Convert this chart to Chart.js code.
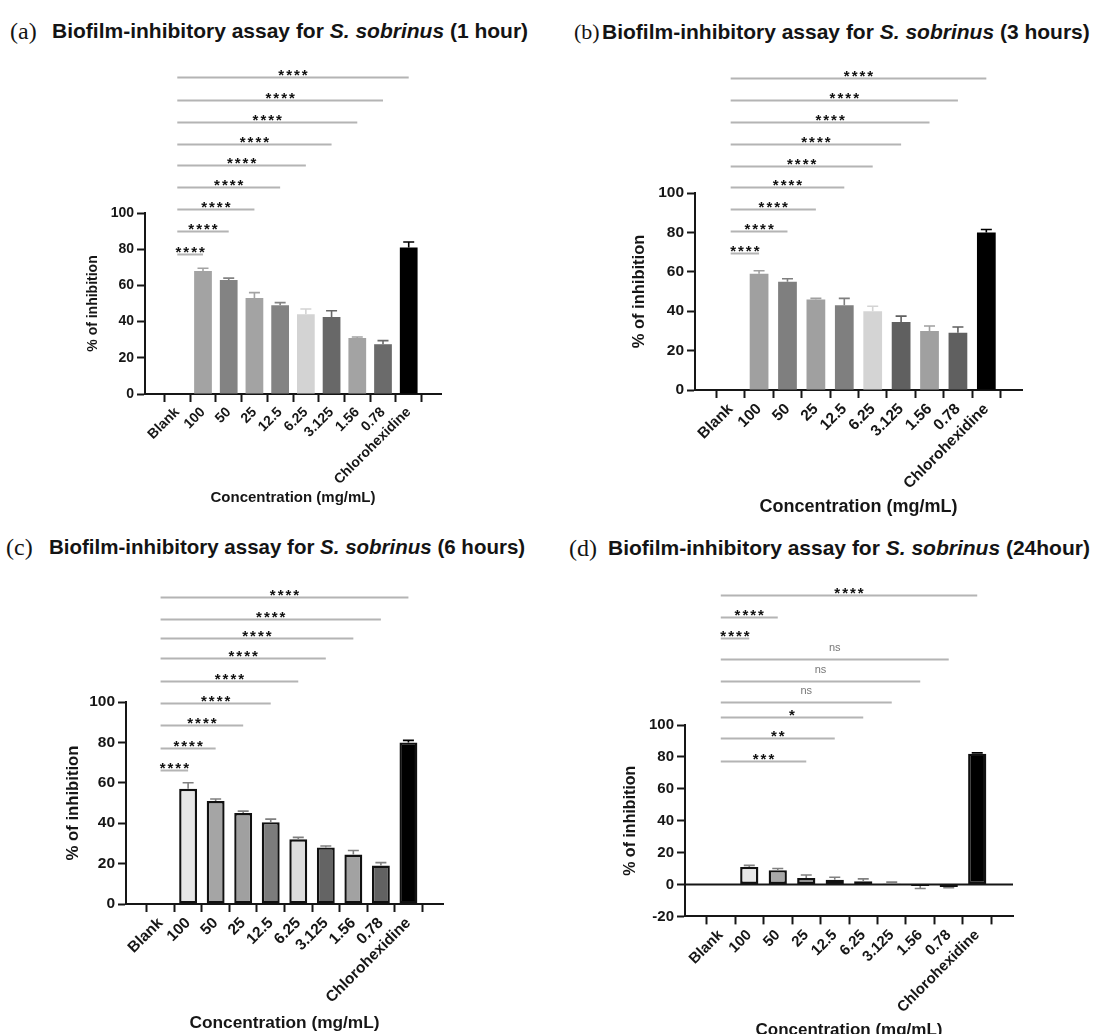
<!DOCTYPE html>
<html>
<head>
<meta charset="utf-8">
<title>Biofilm-inhibitory assay for S. sobrinus</title>
<script src="https://cdn.jsdelivr.net/npm/chart.js@4.4.1/dist/chart.umd.min.js"></script>
<style>
  html, body { margin: 0; padding: 0; background: #fff; }
  body { width: 1099px; height: 1034px; position: relative; overflow: hidden;
         font-family: "Liberation Sans", Arial, sans-serif; color: #141414; }
  canvas { position: absolute; }
  .ttl { position: absolute; white-space: nowrap; font-weight: bold; font-size: 21px; line-height: 24px; }
  .tag { position: absolute; white-space: nowrap; font-family: "Liberation Serif", "Times New Roman", serif;
         font-size: 24px; line-height: 24px; }
</style>
</head>
<body>
<div class="tag" style="left:10px;top:19px">(a)</div>
<div class="ttl" style="left:52px;top:19px">Biofilm-inhibitory assay for <i>S. sobrinus</i> (1 hour)</div>
<div class="tag" style="left:574px;top:20px;font-size:22px">(b)</div>
<div class="ttl" style="left:602px;top:20px">Biofilm-inhibitory assay for <i>S. sobrinus</i> (3 hours)</div>
<div class="tag" style="left:6px;top:535px">(c)</div>
<div class="ttl" style="left:49px;top:535px;font-size:20.5px">Biofilm-inhibitory assay for <i>S. sobrinus</i> (6 hours)</div>
<div class="tag" style="left:569px;top:536px">(d)</div>
<div class="ttl" style="left:608px;top:536px">Biofilm-inhibitory assay for <i>S. sobrinus</i> (24hour)</div>

<canvas id="chartA"></canvas>
<canvas id="chartB"></canvas>
<canvas id="chartC"></canvas>
<canvas id="chartD"></canvas>

<script>
// Categories (concentration, mg/mL)
const categories = ["Blank", "100", "50", "25", "12.5", "6.25", "3.125", "1.56", "0.78", "Chlorohexidine"];

// % of inhibition, mean and upper error, per time point
const values1h  = [0, 68, 63, 53, 49, 44, 42.5, 31, 27.5, 81];
const errors1h  = [0, 1.5, 1, 3, 1.5, 3, 3.5, 0.5, 2, 3];
const values3h  = [0, 59, 55, 46, 43, 40, 34.5, 30, 29, 80];
const errors3h  = [0, 1.5, 1.5, 0.5, 3.5, 2.5, 3, 2.5, 3, 1.5];
const values6h  = [0, 57, 51, 45, 40.5, 32, 28, 24.5, 19, 80];
const errors6h  = [0, 3, 1, 1, 1.5, 1, 0.7, 2, 1.5, 1];
const values24h = [0, 11, 9, 4, 3, 2, 0.5, -1, -1.5, 82];
const errors24h = [0, 1, 1, 2, 1.5, 1.5, 1, 1.5, 0.5, 0.5];

// Comparisons against Blank: [category index, label], listed bottom to top
const compareAll = [[1, "****"], [2, "****"], [3, "****"], [4, "****"], [5, "****"],
                    [6, "****"], [7, "****"], [8, "****"], [9, "****"]];
const compare24h = [[3, "***"], [4, "**"], [5, "*"], [6, "ns"], [7, "ns"], [8, "ns"],
                    [1, "****"], [2, "****"], [9, "****"]];

const yTicks = [-20, 0, 20, 40, 60, 80, 100];

const ink = "#161616";
Chart.defaults.font.family = "'Liberation Sans', Arial, sans-serif";

// Panel layout and styling
const panels = [
  {
    id: "chartA", values: values1h, errors: errors1h, compare: compareAll,
    colors: ["#a3a3a3", "#a3a3a3", "#838383", "#a3a3a3", "#838383", "#d3d3d3", "#686868", "#a3a3a3", "#6b6b6b", "#000000"],
    box: { left: 0, top: 50, width: 550, height: 470 },
    area: { left: 145, right: 441, top: 213, bottom: 394 },
    yMin: 0, tickSize: 14, yTitleSize: 14, xTitleSize: 15, yTitleX: 93.5, xTitleY: 498,
    barPct: 0.69, outlined: false,
    levels: [77.3, 90, 102, 114.4, 126.5, 138, 150.3, 162.4, 175]
  },
  {
    id: "chartB", values: values3h, errors: errors3h, compare: compareAll,
    colors: ["#a0a0a0", "#a0a0a0", "#7f7f7f", "#a0a0a0", "#7f7f7f", "#d4d4d4", "#606060", "#a0a0a0", "#606060", "#000000"],
    box: { left: 550, top: 50, width: 549, height: 470 },
    area: { left: 695, right: 1022, top: 193, bottom: 390 },
    yMin: 0, tickSize: 15.5, yTitleSize: 16.5, xTitleSize: 18, yTitleX: 639.6, xTitleY: 506.7,
    barPct: 0.66, outlined: false,
    levels: [69.5, 80.6, 91.7, 102.8, 113.9, 125, 136.1, 147.2, 158.3]
  },
  {
    id: "chartC", values: values6h, errors: errors6h, compare: compareAll,
    colors: ["#e6e6e6", "#e6e6e6", "#a5a5a5", "#a0a0a0", "#7c7c7c", "#dedede", "#646464", "#a2a2a2", "#626262", "#000000"],
    box: { left: 0, top: 570, width: 550, height: 464 },
    area: { left: 126, right: 443, top: 702, bottom: 904 },
    yMin: 0, tickSize: 15.5, yTitleSize: 16.7, xTitleSize: 17.3, yTitleX: 73, xTitleY: 1023,
    barPct: 0.65, outlined: true,
    levels: [66.3, 77.4, 88.6, 99.6, 110.5, 121.8, 131.7, 141, 152]
  },
  {
    id: "chartD", values: values24h, errors: errors24h, compare: compare24h,
    colors: ["#e8e8e8", "#e8e8e8", "#a8a8a8", "#a0a0a0", "#7c7c7c", "#cfcfcf", "#646464", "#c8c8c8", "#555555", "#000000"],
    box: { left: 550, top: 570, width: 549, height: 480 },
    area: { left: 685, right: 1013, top: 725, bottom: 916.4 },
    yMin: -20, tickSize: 15, yTitleSize: 16, xTitleSize: 17, yTitleX: 630.5, xTitleY: 1030,
    barPct: 0.64, outlined: true,
    levels: [77.7, 91.7, 105.2, 114.6, 127.7, 141.1, 154.6, 167.7, 181.2]
  }
];

// Error bars, zero line and significance brackets
function overlay(p) {
  return {
    id: "overlay-" + p.id,
    afterDatasetsDraw(chart) {
      const { ctx, chartArea, scales: { x, y } } = chart;
      ctx.save();

      if (p.yMin < 0) {
        ctx.strokeStyle = ink;
        ctx.lineWidth = 2;
        ctx.beginPath();
        ctx.moveTo(chartArea.left, y.getPixelForValue(0));
        ctx.lineTo(chartArea.right, y.getPixelForValue(0));
        ctx.stroke();
      }

      p.values.forEach((v, i) => {
        const e = p.errors[i];
        if (!e) return;
        const cx = x.getPixelForValue(i);
        const y0 = y.getPixelForValue(v);
        const y1 = y.getPixelForValue(v < 0 ? v - e : v + e);
        ctx.strokeStyle = i === 9 ? "#000" : (p.outlined ? "#808080" : p.colors[i]);
        ctx.lineWidth = 1.6;
        ctx.beginPath();
        ctx.moveTo(cx, y0);
        ctx.lineTo(cx, y1);
        ctx.moveTo(cx - 5.5, y1);
        ctx.lineTo(cx + 5.5, y1);
        ctx.stroke();
      });

      const x0 = x.getPixelForValue(0);
      p.compare.forEach((c, k) => {
        const ly = Math.round(y.getPixelForValue(p.levels[k])) + 0.5;
        const x1 = x.getPixelForValue(c[0]);
        ctx.strokeStyle = "#b4b4b4";
        ctx.lineWidth = 2;
        ctx.beginPath();
        ctx.moveTo(x0, ly);
        ctx.lineTo(x1, ly);
        ctx.stroke();

        ctx.textAlign = "center";
        ctx.textBaseline = "alphabetic";
        if (c[1] === "ns") {
          ctx.font = "11px 'Liberation Sans', Arial, sans-serif";
          ctx.fillStyle = "#777";
          ctx.letterSpacing = "0px";
          ctx.fillText(c[1], (x0 + x1) / 2, ly - 8.5);
        } else {
          ctx.font = "bold 15px 'Liberation Sans', Arial, sans-serif";
          ctx.fillStyle = "#111";
          ctx.letterSpacing = "2px";
          ctx.fillText(c[1], (x0 + x1) / 2 + 1, ly + 2);
        }
      });
      ctx.restore();
    }
  };
}

function makeChart(p) {
  const canvas = document.getElementById(p.id);
  canvas.width = p.box.width;
  canvas.height = p.box.height;
  canvas.style.left = p.box.left + "px";
  canvas.style.top = p.box.top + "px";

  const yW = p.area.left - p.yTitleX + p.yTitleSize * 1.2 / 2;
  const xH = p.xTitleY - p.area.bottom + p.xTitleSize * 1.2 / 2;
  const pad = {
    left: p.area.left - p.box.left - yW,
    right: p.box.left + p.box.width - p.area.right,
    top: p.area.top - p.box.top,
    bottom: p.box.top + p.box.height - p.area.bottom - xH
  };

  return new Chart(canvas, {
    type: "bar",
    data: {
      datasets: [{
        data: p.values.map((v, i) => ({ x: i, y: v })),
        backgroundColor: p.colors,
        borderColor: p.outlined ? "#111" : p.colors,
        borderWidth: p.outlined ? 2.4 : 0,
        borderSkipped: false,
        barPercentage: p.barPct,
        categoryPercentage: 1
      }]
    },
    options: {
      responsive: false,
      animation: false,
      layout: { padding: pad },
      plugins: { legend: { display: false }, tooltip: { enabled: false } },
      scales: {
        x: {
          type: "linear",
          bounds: "data",
          min: -0.68,
          max: categories.length - 1 + 0.68,
          afterBuildTicks: s => { s.ticks = categories.map((_, i) => ({ value: i })); },
          afterFit: s => { s.height = xH; },
          grid: { drawOnChartArea: false, drawTicks: true, tickLength: 8, tickWidth: 2, tickColor: ink },
          border: { color: ink, width: 2 },
          ticks: {
            autoSkip: false, minRotation: 45, maxRotation: 45, padding: 2, color: ink,
            font: { size: p.tickSize, weight: "bold" },
            callback: (v, i) => categories[i]
          },
          title: {
            display: true, text: "Concentration (mg/mL)", color: ink, padding: 0,
            font: { size: p.xTitleSize, weight: "bold" }
          }
        },
        y: {
          min: p.yMin,
          max: 100,
          afterBuildTicks: s => { s.ticks = yTicks.filter(t => t >= p.yMin).map(t => ({ value: t })); },
          afterFit: s => { s.width = yW; },
          grid: { drawOnChartArea: false, drawTicks: true, tickLength: 8, tickWidth: 2, tickColor: ink },
          border: { color: ink, width: 2 },
          ticks: { padding: 3, color: ink, font: { size: p.tickSize, weight: "bold" } },
          title: {
            display: true, text: "% of inhibition", color: ink, padding: 0,
            font: { size: p.yTitleSize, weight: "bold" }
          }
        }
      }
    },
    plugins: [overlay(p)]
  });
}

panels.forEach(makeChart);
</script>
</body>
</html>
